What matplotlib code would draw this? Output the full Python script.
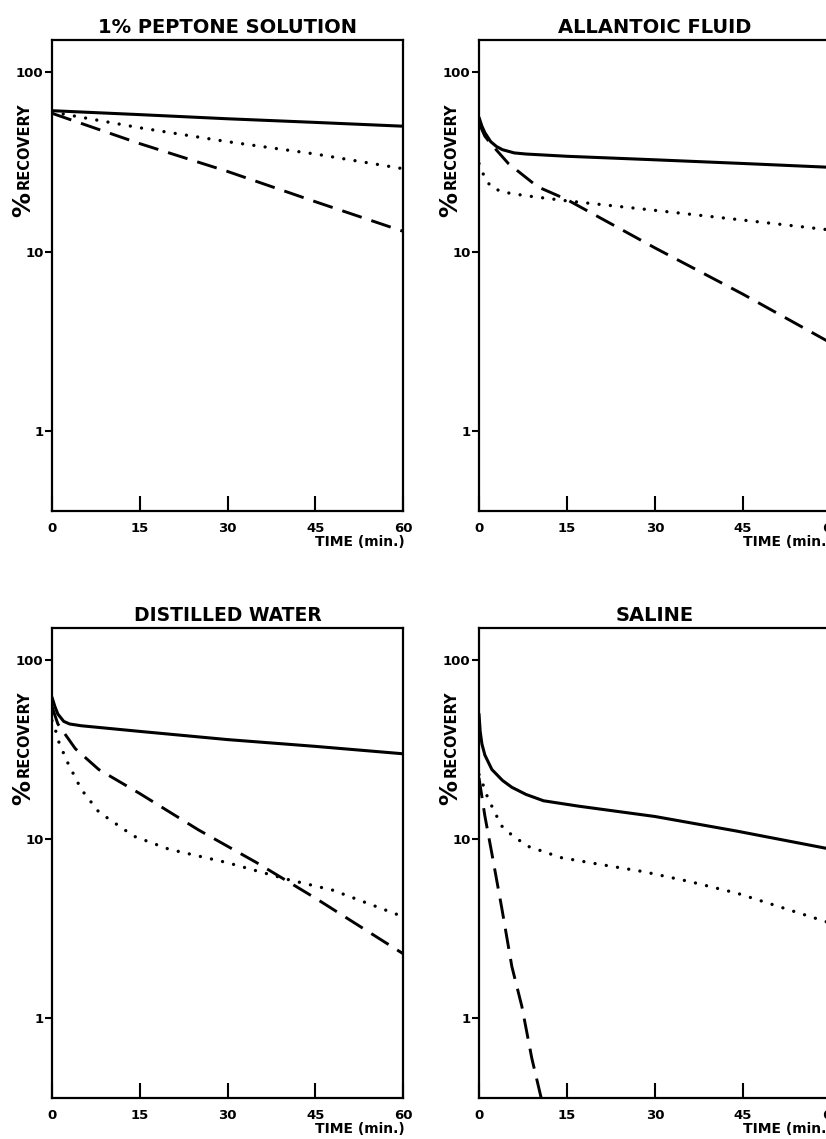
#!/usr/bin/env python

'''
    Per cent recovery against time in four suspending media
'''

import matplotlib
matplotlib.use('Agg')
from matplotlib.pyplot import figure, rcParams
from matplotlib.ticker import NullLocator

rcParams['font.family'] = 'DejaVu Sans'
rcParams['font.weight'] = 'bold'

# 1% peptone solution
peptone_solid_t   = [0, 15, 30, 45, 60]
peptone_solid_y   = [61, 58, 55, 52.5, 50]
peptone_dotted_t  = [0, 15, 30, 45, 60]
peptone_dotted_y  = [60, 49, 41, 35, 29]
peptone_dashed_t  = [0, 15, 30, 45, 60]
peptone_dashed_y  = [59, 40, 28, 19, 13]

# allantoic fluid
allantoic_solid_t  = [0, 0.5, 1, 2, 3, 4, 6, 8, 15, 30, 45, 60]
allantoic_solid_y  = [56, 50, 46, 41, 38.5, 37, 35.5, 35, 34, 32.5, 31, 29.5]
allantoic_dotted_t = [0, 0.5, 1, 2, 4, 8, 15, 30, 45, 60]
allantoic_dotted_y = [31, 28, 26, 23, 21.5, 20.5, 19.2, 17, 15, 13.2]
allantoic_dashed_t = [0, 1, 2, 5, 10, 15, 30, 45, 60]
allantoic_dashed_y = [52, 44, 40, 31, 23, 19.5, 10.5, 5.8, 3.1]

# distilled water
distilled_solid_t  = [0, 0.5, 1, 2, 3, 5, 15, 30, 45, 60]
distilled_solid_y  = [62, 55, 50, 45.5, 44, 43, 40, 36, 33, 30]
distilled_dotted_t = [0, 0.5, 1, 2.5, 5, 8, 14, 20, 30, 40, 48, 60]
distilled_dotted_y = [46, 42, 36, 27.5, 19, 14.2, 10.4, 8.8, 7.4, 6.0, 5.2, 3.7]
distilled_dashed_t = [0, 1, 4, 8, 15, 25, 35, 45, 60]
distilled_dashed_y = [55, 44, 32, 24.5, 18, 11.3, 7.4, 4.7, 2.3]

# saline
saline_solid_t  = [0, 0.2, 0.5, 1, 2.2, 4, 5.6, 8, 11, 17, 30, 44, 60]
saline_solid_y  = [50, 40, 34, 29.5, 24.5, 21.3, 19.5, 17.8, 16.4, 15.3, 13.4, 11.1, 8.8]
saline_dotted_t = [0, 0.5, 1.5, 3, 4, 6, 8.5, 14, 20, 28, 36, 44, 60]
saline_dotted_y = [23, 21, 17, 13.5, 11.7, 10.3, 9.1, 7.9, 7.3, 6.6, 5.8, 5.0, 3.4]
saline_dashed_t = [0, 0.3, 1, 2.2, 3.9, 5.6, 7.3, 9, 10.6]
saline_dashed_y = [22, 19, 13.5, 8.3, 4.1, 1.95, 1.17, 0.6, 0.36]

titles       = ['1% PEPTONE SOLUTION', 'ALLANTOIC FLUID', 'DISTILLED WATER', 'SALINE']
x_ticks      = [0, 15, 30, 45, 60]
x_labels     = ['0', '15', '30', '45', '60']
y_ticks      = [1, 10, 100]
y_labels     = ['1', '10', '100']

panels = [
    (peptone_solid_t, peptone_solid_y, peptone_dotted_t, peptone_dotted_y,
     peptone_dashed_t, peptone_dashed_y),
    (allantoic_solid_t, allantoic_solid_y, allantoic_dotted_t, allantoic_dotted_y,
     allantoic_dashed_t, allantoic_dashed_y),
    (distilled_solid_t, distilled_solid_y, distilled_dotted_t, distilled_dotted_y,
     distilled_dashed_t, distilled_dashed_y),
    (saline_solid_t, saline_solid_y, saline_dotted_t, saline_dotted_y,
     saline_dashed_t, saline_dashed_y),
]

W, H = 826, 1139
# the right column runs a few pixels past the page edge, as in the scan
boxes = [(52, 40, 351, 471), (479, 40, 352, 471),
         (52, 628, 351, 470), (479, 628, 352, 470)]

fig = figure(figsize=(W/100, H/100), dpi=100)

for i, (title, data, box) in enumerate(zip(titles, panels, boxes)):
    x0, y0, w, h = box
    ax = fig.add_axes([x0/W, 1 - (y0 + h)/H, w/W, h/H])
    st, sy, dt, dy, at, ay = data
    ax.plot(st, sy, color='black', lw=2.2, solid_capstyle='round')
    ax.plot(dt, dy, color='black', lw=2.4, linestyle=(0, (0.01, 3.4)),
            dash_capstyle='round')
    ax.plot(at, ay, color='black', lw=2.1, linestyle=(0, (7, 3.5)))

    ax.set_yscale('log')
    ax.set_ylim(0.36, 151)
    ax.set_xlim(0, 60)
    ax.set_yticks(y_ticks)
    ax.set_yticklabels(y_labels)
    ax.yaxis.set_minor_locator(NullLocator())
    ax.set_xticks(x_ticks)
    ax.set_xticklabels(x_labels)
    ax.tick_params(axis='y', direction='out', length=5, width=1.5, pad=1,
                   labelsize=9.5)
    ax.tick_params(axis='x', direction='in', length=11, width=1.5, pad=8,
                   labelsize=9.5)
    for spine in ax.spines.values():
        spine.set_linewidth(1.6)

    size = 13.5 if i == 2 else 14
    ax.set_title(title, fontsize=size, fontweight='bold', pad=5)

    ax.text(-0.083, 0.65, '%', rotation=90, fontsize=18, transform=ax.transAxes,
            ha='center', va='center')
    ax.text(-0.08, 0.775, 'RECOVERY', rotation=90, fontsize=10.5,
            transform=ax.transAxes, ha='center', va='center')
    ax.annotate('TIME (min.)', xy=(1.005, 0), xycoords='axes fraction',
                xytext=(0, -22), textcoords='offset points',
                ha='right', va='center', fontsize=10)

fig.savefig('out.png', dpi=100)
